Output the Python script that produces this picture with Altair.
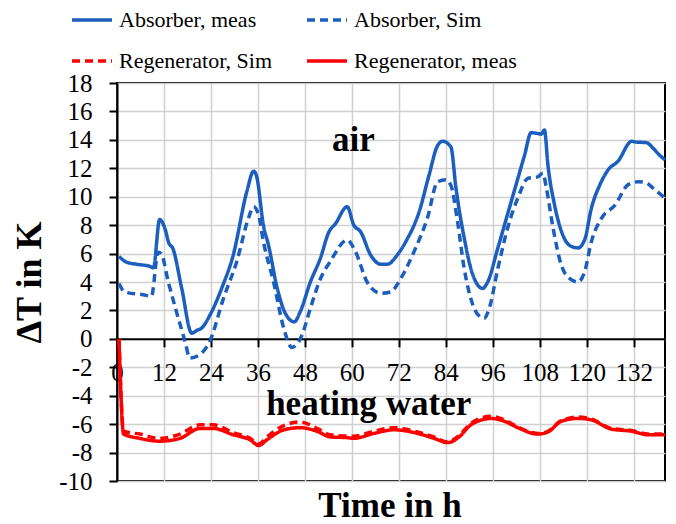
import altair as alt
import pandas as pd

# ---------------- data ----------------
abs_meas_h = [0.5, 2.4, 5, 8.4, 9.3, 10.9, 12.2, 13.3, 14.2, 16.5, 19.1, 20.4, 21.6, 23.8, 26.8,
              29.7, 33.2, 34.9, 35.7, 37.4, 38.7, 40.9, 43, 45.3, 46.8, 49.4, 52, 54.1, 55.8, 58.8,
              60.5, 62.2, 64.8, 67.4, 69.1, 71.6, 73.8, 77.2, 79.7, 81.9, 83.2, 85.3, 86.6, 88.7,
              90.9, 93.4, 94.7, 97.3, 100.7, 104.1, 105.8, 107.5, 108.4, 109.2, 110.1, 111.8, 113.9,
              116.1, 117.8, 119.5, 121.2, 123.3, 125.5, 128, 131.5, 132.4, 135.3, 137, 138.7, 140]
abs_meas_v = [5.8, 5.4, 5.25, 5.1, 5.0, 8.4, 7.8, 6.7, 6.4, 3.6, 0.4, 0.6, 0.75, 1.7, 3.6,
              5.9, 10.4, 11.8, 11.4, 8.0, 6.6, 3.6, 1.8, 1.2, 1.9, 4.0, 5.7, 7.5, 8.1, 9.3,
              8.0, 7.55, 5.9, 5.25, 5.25, 5.9, 6.85, 8.95, 11.5, 13.6, 13.9, 13.5, 10.6, 7.1,
              4.5, 3.55, 4.0, 6.4, 9.65, 12.9, 14.5, 14.45, 14.4, 14.7, 12.2, 9.4, 7.3,
              6.5, 6.4, 7.0, 9.2, 10.8, 11.9, 12.5, 13.9, 13.85, 13.8, 13.4, 12.9, 12.6]

abs_sim_h = [0.5, 2, 6.7, 8.8, 10.5, 11.3, 13.1, 15.2, 17.4, 18.6, 21.2, 23.8, 27.2, 30.6, 33.6,
             34.9, 36.2, 37.4, 40, 42.6, 44.7, 46.4, 47.3, 49.4, 52, 54.5, 58.8, 60.9, 63.9, 67.4,
             69.9, 72.5, 75.9, 79.3, 81.9, 84, 85.3, 87, 88.7, 90.9, 92.2, 93.8, 95.1, 97.3, 99.8,
             102.4, 105, 107.5, 108.8, 109.7, 111.4, 113.5, 115.6, 117.8, 119.5, 121.2, 123.8,
             127.2, 130.6, 133.2, 134.9, 137.4, 140]
abs_sim_v = [3.9, 3.3, 3.1, 3.0, 6.1, 6.0, 4.0, 1.9, -0.2, -1.35, -1.1, -0.1, 2.85, 5.45, 8.5,
             9.3, 8.7, 6.85, 4.0, 0.75, -0.6, -0.2, 0.3, 2.15, 4.25, 5.45, 6.95, 6.15, 4.0, 3.2,
             3.3, 4.25, 6.15, 8.5, 11.05, 11.2, 10.8, 8.25, 4.95, 2.4, 1.7, 1.45, 2.15, 4.95, 7.8,
             9.9, 11.3, 11.4, 11.65, 10.6, 7.8, 5.2, 4.25, 4.0, 4.75, 6.85, 8.5,
             9.4, 10.85, 11.05, 11.0, 10.5, 9.9]

reg_meas_h = [0.5, 1.7, 5.8, 11, 16.1, 21.2, 24.6, 29.7, 34, 36.2, 38.3, 42.6, 46.8, 51.1, 54.5,
              58.8, 60.5, 65.6, 70.8, 76.8, 81, 84.5, 87.4, 90.4, 95.6, 99, 102.4, 107.5, 110.1,
              113.5, 117.8, 121.2, 126.3, 131.5, 135.7, 140]
reg_meas_v = [0, -6.7, -7.0, -7.2, -7.0, -6.3, -6.3, -6.75, -7.1, -7.5, -7.1, -6.4, -6.25, -6.5, -6.9,
              -6.95, -7.0, -6.65, -6.4, -6.65, -7.0, -7.3, -6.9, -6.05, -5.6, -5.8, -6.25, -6.7, -6.55,
              -5.8, -5.6, -5.7, -6.35, -6.5, -6.75, -6.75]

reg_sim_h = [0.5, 1.7, 5.8, 11, 16.1, 21.2, 24.6, 29.7, 34, 36.2, 38.3, 42.6, 46.8, 51.1, 54.5,
             60.5, 65.6, 70.8, 76.8, 81, 84.5, 87.4, 90.4, 95.6, 99, 102.4, 107.5, 110.1,
             113.5, 117.8, 121.2, 126.3, 131.5, 135.7, 140]
reg_sim_v = [0, -6.5, -6.7, -7.0, -6.7, -6.05, -6.05, -6.6, -7.0, -7.4, -6.9, -6.1, -5.85, -6.3, -6.75,
             -6.85, -6.5, -6.25, -6.55, -6.9, -7.25, -6.8, -5.95, -5.45, -5.7, -6.2, -6.65, -6.5,
             -5.75, -5.5, -5.65, -6.3, -6.45, -6.7, -6.7]

series_names = ["Absorber, meas", "Absorber, Sim", "Regenerator, Sim", "Regenerator, meas"]
series_colors = ["#1B5EBE", "#1B5EBE", "#FF0000", "#FF0000"]
series_dash = [[1, 0], [8, 5], [8, 5], [1, 0]]

x_ticks = [0, 12, 24, 36, 48, 60, 72, 84, 96, 108, 120, 132]
y_ticks = [-10, -8, -6, -4, -2, 0, 2, 4, 6, 8, 10, 12, 14, 16, 18]

annot_labels = ["air", "heating water"]
annot_h = [60.4, 64.3]
annot_v = [13.24, -5.39]

# ---------------- tables ----------------
rows = []
for name, hs, vs in zip(series_names,
                        [abs_meas_h, abs_sim_h, reg_sim_h, reg_meas_h],
                        [abs_meas_v, abs_sim_v, reg_sim_v, reg_meas_v]):
    for h, v in zip(hs, vs):
        rows.append({"series": name, "h": h, "v": v})
df = pd.DataFrame(rows)
annot_df = pd.DataFrame({"label": annot_labels, "h": annot_h, "v": annot_v})
xtitle_df = pd.DataFrame({"label": ["Time in h"]})

FONT = "Liberation Serif"
W, H = 548, 398
zero_offset = -(H * 10 / 28)

x_scale = alt.Scale(domain=[0, 140], nice=False, zero=False)
y_scale = alt.Scale(domain=[-10, 18], nice=False)

x_axis = alt.Axis(values=x_ticks, title=None, offset=zero_offset, tickSize=8, labelPadding=14,
                  labelOverlap=False, labelFlush=False, grid=True)
y_axis = alt.Axis(values=y_ticks, title="ΔT in K", tickSize=8, labelPadding=17,
                  labelExpr="'' + datum.value", titleFontSize=36, titleFontWeight="bold",
                  titlePadding=10, labelOverlap=False, grid=True)

x_enc = alt.X("h:Q", scale=x_scale, axis=x_axis)
y_enc = alt.Y("v:Q", scale=y_scale, axis=y_axis)

legend = alt.Legend(title=None, orient="none", legendX=-47, legendY=-85, columns=2,
                    direction="horizontal", labelFont=FONT, labelFontSize=22,
                    labelColor="black", labelLimit=400)

lines = alt.Chart(df).mark_line(strokeWidth=3.5, interpolate="monotone").encode(
    x=x_enc,
    y=y_enc,
    color=alt.Color("series:N", scale=alt.Scale(domain=series_names, range=series_colors),
                    legend=legend),
    strokeDash=alt.StrokeDash("series:N", scale=alt.Scale(domain=series_names, range=series_dash),
                              legend=legend),
)

annots = alt.Chart(annot_df).mark_text(font=FONT, fontSize=35, fontWeight="bold",
                                       baseline="alphabetic", align="center", color="black").encode(
    x=x_enc, y=y_enc, text="label:N"
)

xtitle = alt.Chart(xtitle_df).mark_text(font=FONT, fontSize=35, fontWeight="bold",
                                        baseline="alphabetic", align="center", color="black").encode(
    x=alt.value(W / 2 - 1), y=alt.value(434), text="label:N"
)

chart = alt.layer(lines, annots, xtitle).properties(
    width=W, height=H,
    autosize=alt.AutoSizeParams(type="none"),
    padding={"left": 117, "top": 83, "right": 11, "bottom": 43},
    background="white",
).configure(
    font=FONT
).configure_view(
    stroke="black", strokeWidth=2
).configure_axis(
    gridColor="#D0D0D0", gridWidth=1.5, domainColor="black", domainWidth=2,
    tickColor="black", tickWidth=2, labelFont=FONT, labelFontSize=25, labelColor="black",
    titleFont=FONT, titleColor="black"
).configure_legend(
    labelFont=FONT, labelFontSize=22, labelColor="black", labelLimit=400,
    symbolType="stroke", symbolSize=1600, symbolStrokeWidth=3.5, labelOffset=5,
    padding=0, columnPadding=27, rowPadding=8
)

chart.save("out.html", embed_options={"renderer": "svg", "actions": False})
